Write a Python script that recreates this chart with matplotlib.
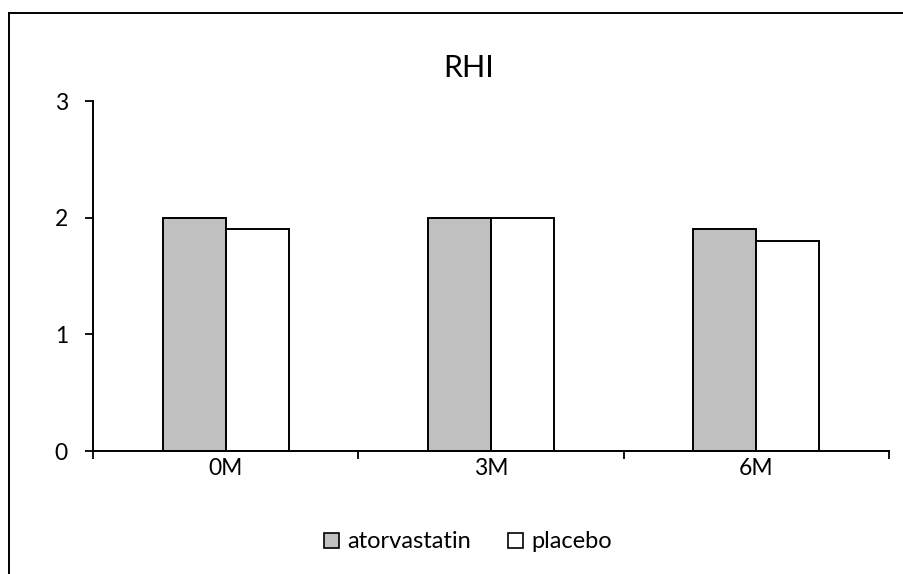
import matplotlib
matplotlib.use("Agg")
import matplotlib.pyplot as plt
import numpy as np
from matplotlib.lines import Line2D
from matplotlib.patches import Patch

plt.rcParams['font.family'] = ['Lato', 'DejaVu Sans']

categories = ["0M", "3M", "6M"]
atorvastatin = [2.0, 2.0, 1.9]
placebo = [1.9, 2.0, 1.8]
series_names = ["atorvastatin", "placebo"]
y_ticks = [0, 1, 2, 3]

W, H = 904, 574
fig = plt.figure(figsize=(W / 100, H / 100), dpi=100)
ax = fig.add_axes([93 / W, 1 - 451 / H, (889 - 93) / W, (451 - 101) / H])

x = np.arange(len(categories))
bw = 0.238
ax.bar(x - bw / 2, atorvastatin, bw, color="#C0C0C0", edgecolor="black", linewidth=1.4,
       label=series_names[0], zorder=2)
ax.bar(x + bw / 2, placebo, bw, color="white", edgecolor="black", linewidth=1.4,
       label=series_names[1], zorder=2)

ax.set_xlim(-0.5, len(categories) - 0.5)
ax.set_ylim(0, 3)
ax.set_yticks(y_ticks)
ax.set_yticklabels([str(v) for v in y_ticks])

# category boundaries carry the tick marks, labels sit at the centres
ax.set_xticks(np.arange(len(categories) + 1) - 0.5)
ax.set_xticklabels([])
ax.set_xticks(x, minor=True)
ax.set_xticklabels(categories, minor=True)
ax.tick_params(axis="x", which="major", direction="out", length=6, width=1.3, color="black")
ax.tick_params(axis="x", which="minor", length=0, pad=5, labelsize=16.5)
ax.tick_params(axis="y", direction="out", length=6, width=1.3, pad=12, labelsize=16.5)

for s in ["top", "right"]:
    ax.spines[s].set_visible(False)
for s in ["left", "bottom"]:
    ax.spines[s].set_linewidth(1.4)
    ax.spines[s].set_color("black")

fig.text(469 / W, 1 - 68 / H, "RHI", ha="center", va="center", fontsize=22)

handles = [Patch(facecolor="#C0C0C0", edgecolor="black", linewidth=1.2),
           Patch(facecolor="white", edgecolor="black", linewidth=1.2)]
fig.legend(handles, series_names, loc="center", bbox_to_anchor=(468 / W, 1 - 542 / H),
           ncol=2, frameon=False, fontsize=17, handlelength=0.62, handleheight=0.62,
           handletextpad=0.35, columnspacing=1.6)

# chart-area border
fig.add_artist(Line2D([9 / W, 9 / W], [-0.05, 1 - 12.5 / H], transform=fig.transFigure,
                      color="black", linewidth=1.4))
fig.add_artist(Line2D([9 / W, 1.05], [1 - 12.5 / H, 1 - 12.5 / H], transform=fig.transFigure,
                      color="black", linewidth=1.4))

fig.savefig("out.png", dpi=100, facecolor="white")
